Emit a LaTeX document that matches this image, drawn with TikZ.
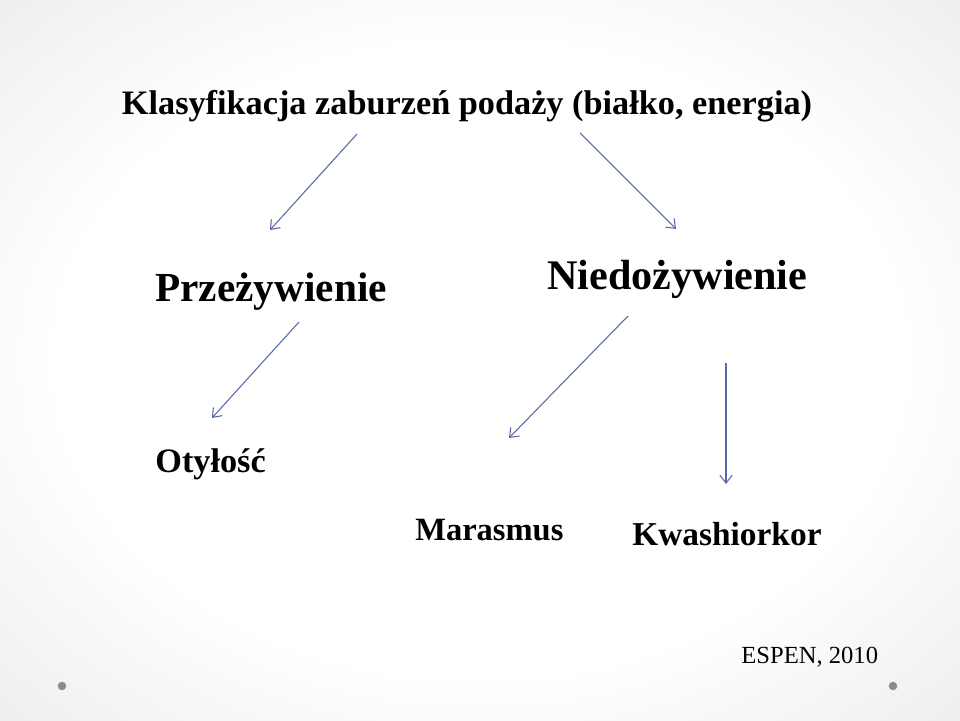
\documentclass[tikz,border=0pt]{standalone}
\usepackage{fontspec}
\setmainfont{Liberation Serif}
\usetikzlibrary{arrows.meta}
\definecolor{arrowblue}{RGB}{88,104,166}
\definecolor{dotgray}{RGB}{140,140,140}
\pgfdeclareradialshading{slidebg}{\pgfpoint{0bp}{0bp}}{color(0bp)=(white); color(22bp)=(white); color(50bp)=(black!14); color(72bp)=(black!21)}
\tikzset{
  label/.style={inner sep=0pt, anchor=base west, font=\bfseries},
  link/.style={draw=arrowblue, line width=0.6pt, -{Straight Barb[length=4.5pt,width=7pt]}}
}
\begin{document}
\begin{tikzpicture}
    \shade[shading=slidebg] (0,0) rectangle (19.2,14.4);
    \useasboundingbox (0,0) rectangle (19.2,14.4);
    \foreach \x in {1.24,17.86}
    \fill [dotgray] (\x,0.68) circle (0.085);
    % teksty
    \node (title) [inner sep=0pt, anchor=base, font=\bfseries\fontsize{19.5}{24}\selectfont] at (9.34,12.1) {Klasyfikacja zaburzeń podaży (białko, energia)};
    \node (prze) [label, font=\bfseries\fontsize{23.5}{28}\selectfont] at (3.10,8.36) {Przeżywienie};
    \node (nied) [label, font=\bfseries\fontsize{24}{28}\selectfont] at (10.94,8.60) {Niedożywienie};
    \node (otyl) [label, font=\bfseries\fontsize{19.5}{24}\selectfont] at (3.10,4.96) {Otyłość};
    \node (mara) [label, font=\bfseries\fontsize{18.5}{22}\selectfont] at (8.30,3.60) {Marasmus};
    \node (kwas) [label, font=\bfseries\fontsize{19}{23}\selectfont] at (12.64,3.50) {Kwashiorkor};
    \node (espen) [inner sep=0pt, anchor=base west, font=\fontsize{14}{17}\selectfont] at (14.82,1.14) {ESPEN, 2010};
    % strzalki
    \coordinate (title-l) at (7.14,11.72);
    \coordinate (title-r) at (11.60,11.74);
    \coordinate (prze-n) at (5.40,9.80);
    \coordinate (nied-n) at (13.52,9.82);
    \coordinate (prze-s) at (5.98,7.96);
    \coordinate (otyl-n) at (4.24,6.04);
    \coordinate (nied-sl) at (12.56,8.08);
    \coordinate (mara-n) at (10.18,5.64);
    \coordinate (nied-sr) at (14.52,7.14);
    \coordinate (kwas-n) at (14.52,4.72);
    \draw [link] (title-l) -- (prze-n);
    \draw [link] (title-r) -- (nied-n);
    \draw [link] (prze-s) -- (otyl-n);
    \draw [link] (nied-sl) -- (mara-n);
    \draw [link] (nied-sr) -- (kwas-n);
\end{tikzpicture}
\end{document}
